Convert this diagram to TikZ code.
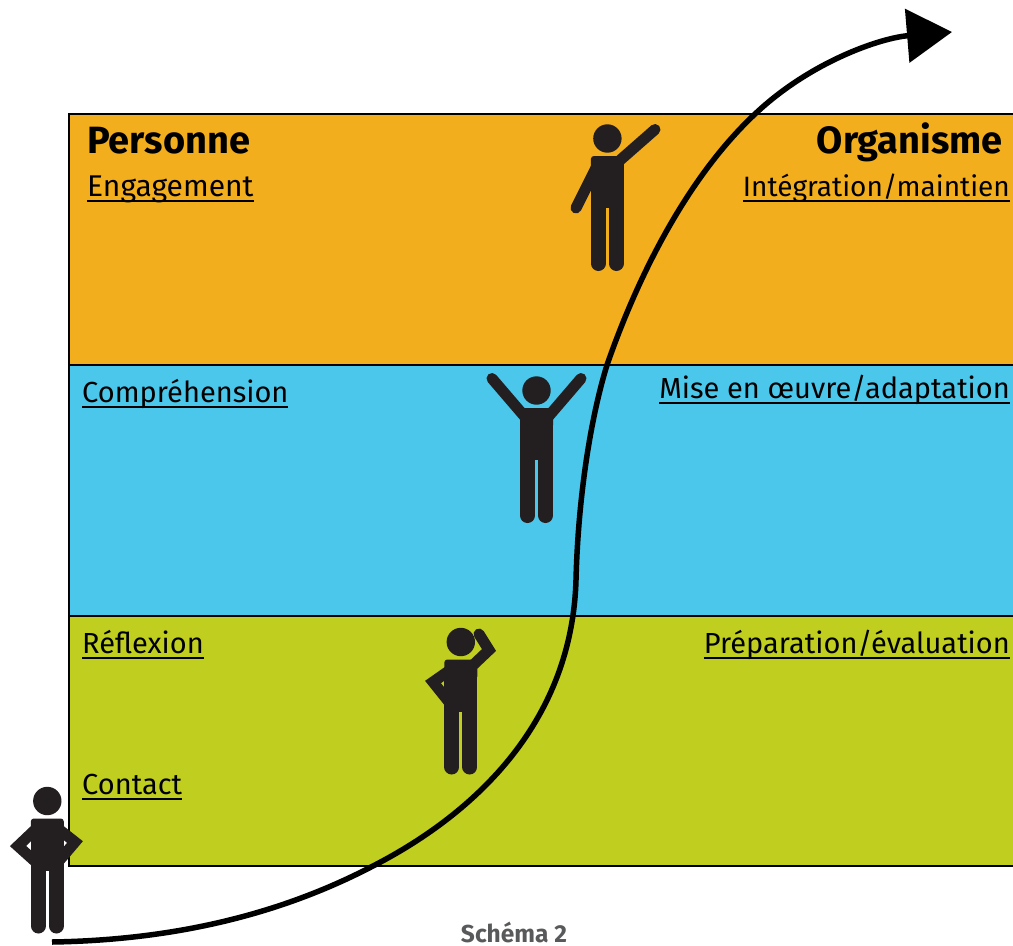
\documentclass[tikz,border=0pt]{standalone}
\usepackage{fontspec}
\setmainfont{Fira Sans}
\usepackage{tikz}
\usetikzlibrary{arrows.meta}
\definecolor{orangeband}{HTML}{F3AE1D}
\definecolor{blueband}{HTML}{4AC7EA}
\definecolor{greenband}{HTML}{C0CE20}
\definecolor{figdark}{HTML}{231F20}
\definecolor{captiongray}{HTML}{58595B}

% text with a heavier rule under it
\newcommand{\labline}[1]{\setbox0=\hbox{#1}\rlap{\rule[-5.4pt]{\wd0}{1.9pt}}\box0}

% body of a figure: #1 = centre x, #2 = top of the torso
\newcommand{\figbody}[2]{
	\fill [figdark,rounded corners=3pt] (#1-16.5,#2+20) -- (#1-16.5,#2) -- (#1+16.5,#2) -- (#1+16.5,#2+20) -- cycle;
	\fill [figdark] (#1-16.5,#2+10) rectangle (#1+16.5,#2+52);
	\draw [figleg] (#1-9,#2+48) -- (#1-9,#2+107.5);
	\draw [figleg] (#1+9,#2+48) -- (#1+9,#2+107.5);
	\fill [figdark] (#1,#2-17.5) circle (14.2);
}

\begin{document}
\begin{tikzpicture}[x=1pt,y=-1pt,
	band/.style={draw=black,line width=2.8pt},
	figleg/.style={draw=figdark,line width=15pt,line cap=round},
	figarm/.style={draw=figdark,line width=11pt,line cap=round,line join=miter},
	lab/.style={inner sep=0pt,font=\fontsize{29}{32}\selectfont},
	title/.style={inner sep=0pt,font=\fontsize{38}{40}\selectfont\bfseries}]

	\useasboundingbox (0,0) rectangle (1013,946);

	\fill [orangeband] (69,114) rectangle (1013,365);
	\fill [blueband] (69,365) rectangle (1013,616);
	\fill [greenband] (69,616) rectangle (1013,866);

	\draw [band] (1013,114) -- (69,114) -- (69,866) -- (1013,866);
	\draw [band] (69,365) -- (1013,365);
	\draw [band] (69,616) -- (1013,616);

	\node [title,anchor=base west] (personne) at (87,153) {Personne};
	\node [title,anchor=base east] (organisme) at (1003,153) {Organisme};
	\node [lab,anchor=base west,font=\fontsize{30}{32}\selectfont] (engagement) at (87,196.5) {\labline{Engagement}};
	\node [lab,anchor=base east,font=\fontsize{28}{32}\selectfont] (integration) at (1010,196.5) {\labline{Intégration/maintien}};
	\node [lab,anchor=base west] (comprehension) at (82,402.5) {\labline{Compréhension}};
	\node [lab,anchor=base east] (miseenoeuvre) at (1010,398.5) {\labline{Mise en œuvre/adaptation}};
	\node [lab,anchor=base west] (reflexion) at (82,653.5) {\labline{Réflexion}};
	\node [lab,anchor=base east] (preparation) at (1010,653.5) {\labline{Préparation/évaluation}};
	\node [lab,anchor=base west] (contact) at (82,794.5) {\labline{Contact}};
	\node [inner sep=0pt,anchor=base,text=captiongray,font=\fontsize{24.5}{26}\selectfont\bfseries] (schema) at (514,942.5) {Schéma 2};

	% figures, from the bottom up
	\figbody{47.3}{818.5}
	\draw [figarm] (38,827) -- (18,846) -- (38,864);
	\draw [figarm] (56,827) -- (75,842) -- (58,862);

	\figbody{460.8}{659.5}
	\draw [figarm] (453,668) -- (433,682) -- (449,702);
	\draw [figarm] (470,668) -- (489,650) -- (479,634);

	\figbody{536.5}{408}
	\draw [figarm] (525,417) -- (492,378.5);
	\draw [figarm] (548,417) -- (581,378.5);

	\figbody{607.4}{156}
	\draw [figarm] (598,164) -- (576,208);
	\draw [figarm] (618,162) -- (655,129.5);

	\coordinate (S0) at (52,942);
	\coordinate (S1) at (373,866);
	\coordinate (S2) at (576,580);
	\coordinate (S3) at (607,365);
	\coordinate (S4) at (755,114);
	\coordinate (S5) at (952,32);

	\draw [line width=5.5pt,-{Triangle[length=45pt,width=53pt]}] (S0)
		.. controls (180,940) and (285,912) .. (S1)
		.. controls (478,812) and (572,720) .. (S2)
		.. controls (578,500) and (590,420) .. (S3)
		.. controls (640,270) and (690,175) .. (S4)
		.. controls (810,62) and (880,38) .. (S5);

\end{tikzpicture}
\end{document}
